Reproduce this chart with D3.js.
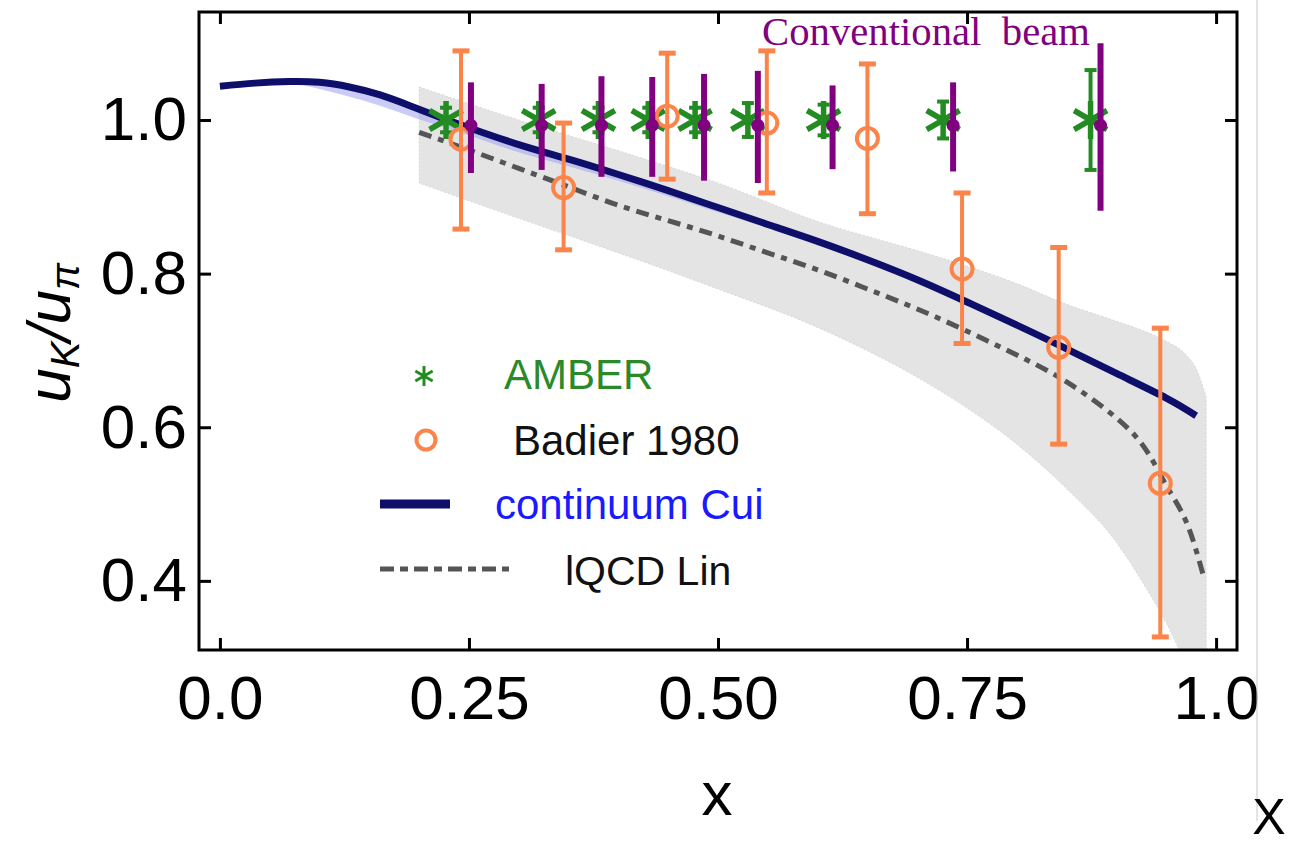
<!DOCTYPE html>
<html>
<head>
<meta charset="utf-8">
<script src="https://cdn.jsdelivr.net/npm/d3@7"></script>
<style>
  html, body { margin: 0; padding: 0; background: #fff; }
  svg { display: block; font-family: "Liberation Sans", Arial, sans-serif; }
</style>
</head>
<body>
<svg id="chart" width="1300" height="845"></svg>
<script>
// axis ticks
const xTicks = [0, 0.25, 0.5, 0.75, 1.0];
const xTickLabels = ["0.0", "0.25", "0.50", "0.75", "1.0"];
const yTicks = [0.4, 0.6, 0.8, 1.0];
const yTickLabels = ["0.4", "0.6", "0.8", "1.0"];

// continuum Cui (solid navy curve)
const cuiX = [0.0, 0.035, 0.07, 0.1, 0.13, 0.16, 0.19, 0.22, 0.25, 0.3, 0.35, 0.4, 0.45, 0.5, 0.55, 0.6, 0.65, 0.7, 0.75, 0.8, 0.85, 0.9, 0.95, 0.98];
const cuiY = [1.044, 1.048, 1.05, 1.049, 1.043, 1.033, 1.019, 1.004, 0.99, 0.968, 0.949, 0.929, 0.908, 0.886, 0.864, 0.842, 0.818, 0.792, 0.763, 0.733, 0.702, 0.67, 0.638, 0.615];
// light blue band below the curve
const cuiBandX = [0.08, 0.12, 0.16, 0.2, 0.25, 0.3, 0.4, 0.5, 0.6, 0.7, 0.76];
const cuiBandLo = [1.047, 1.034, 1.019, 1.001, 0.98, 0.958, 0.921, 0.88, 0.838, 0.789, 0.759];

// lQCD Lin (dash-dot line) and its grey band
const linX = [0.2, 0.25, 0.3, 0.35, 0.4, 0.45, 0.5, 0.55, 0.6, 0.65, 0.7, 0.75, 0.8, 0.85, 0.9, 0.93, 0.95, 0.97, 0.987];
const linY = [0.984, 0.961, 0.937, 0.913, 0.889, 0.869, 0.849, 0.827, 0.805, 0.78, 0.754, 0.725, 0.694, 0.659, 0.612, 0.57, 0.524, 0.477, 0.408];
const bandX = [0.2, 0.3, 0.4, 0.5, 0.6, 0.7, 0.75, 0.8, 0.85, 0.9, 0.93, 0.95, 0.97, 0.98, 0.99];
const bandHi = [1.043, 1.0, 0.96, 0.918, 0.868, 0.83, 0.81, 0.787, 0.76, 0.738, 0.724, 0.712, 0.694, 0.676, 0.64];
const bandLo = [0.918, 0.872, 0.827, 0.78, 0.73, 0.665, 0.625, 0.578, 0.52, 0.45, 0.39, 0.345, 0.29, 0.26, 0.24];

// AMBER projection (green stars)
const amberX = [0.227, 0.320, 0.380, 0.430, 0.477, 0.530, 0.606, 0.726, 0.874];
const amberY = [1, 1, 1, 1, 1, 1, 1, 1, 1];
const amberErr = [0.016, 0.016, 0.016, 0.016, 0.016, 0.022, 0.02, 0.024, 0.065];

// conventional beam (purple)
const convX = [0.252, 0.323, 0.383, 0.434, 0.486, 0.540, 0.615, 0.736, 0.884];
const convY = [0.993, 0.993, 0.993, 0.993, 0.993, 0.993, 0.993, 0.993, 0.993];
const convLo = [0.931, 0.935, 0.926, 0.926, 0.921, 0.918, 0.936, 0.933, 0.882];
const convHi = [1.049, 1.047, 1.057, 1.056, 1.060, 1.064, 1.045, 1.049, 1.100];

// Badier 1980 (orange circles)
const badX = [0.242, 0.345, 0.449, 0.549, 0.65, 0.745, 0.842, 0.944];
const badY = [0.975, 0.912, 1.005, 0.996, 0.976, 0.806, 0.704, 0.527];
const badHi = [1.09, 0.996, 1.087, 1.09, 1.073, 0.905, 0.834, 0.729];
const badLo = [0.858, 0.831, 0.923, 0.905, 0.878, 0.709, 0.578, 0.327];

const GREEN = "#228b22";
const PURPLE = "#800080";
const ORANGE = "#fb844a";
const NAVY = "#0e0e6b";

const svg = d3.select("#chart");

const x = d3.scaleLinear().domain([-0.021, 1.021]).range([199, 1237]);
const y = d3.scaleLinear().domain([0.31, 1.1406]).range([650, 12]);

svg.append("clipPath").attr("id", "clip")
    .append("rect").attr("x", 199).attr("y", 12).attr("width", 1038).attr("height", 638);

const plot = svg.append("g").attr("clip-path", "url(#clip)");

// grey lQCD band
const band = bandX.map((d, i) => ({x: d, hi: bandHi[i], lo: bandLo[i]}));
plot.append("path")
    .datum(band)
    .attr("fill", "#e4e4e4")
    .attr("stroke", "#d0d0d0")
    .attr("stroke-width", 0.8)
    .attr("stroke-dasharray", "2 2")
    .attr("d", d3.area().x(d => x(d.x)).y0(d => y(d.lo)).y1(d => y(d.hi)).curve(d3.curveMonotoneX));

// light blue band under the Cui curve
const cuiLine = d3.line().x(d => x(d[0])).y(d => y(d[1])).curve(d3.curveNatural);
const cuiPts = cuiX.map((d, i) => [d, cuiY[i]]);
const cuiAt = d3.scaleLinear().domain(cuiX).range(cuiY);
const blueBand = cuiBandX.map((d, i) => ({x: d, hi: cuiAt(d), lo: cuiBandLo[i]}));
plot.append("path")
    .datum(blueBand)
    .attr("fill", "#a8a8f2")
    .attr("opacity", 0.6)
    .attr("d", d3.area().x(d => x(d.x)).y0(d => y(d.lo)).y1(d => y(d.hi)).curve(d3.curveNatural));

// lQCD Lin dash-dot
plot.append("path")
    .datum(linX.map((d, i) => [d, linY[i]]))
    .attr("fill", "none")
    .attr("stroke", "#555")
    .attr("stroke-width", 5)
    .attr("stroke-dasharray", "13 7 6 7")
    .attr("d", d3.line().x(d => x(d[0])).y(d => y(d[1])).curve(d3.curveNatural));

// continuum Cui
plot.append("path")
    .datum(cuiPts)
    .attr("fill", "none")
    .attr("stroke", NAVY)
    .attr("stroke-width", 7)
    .attr("d", cuiLine);

// asterisk path
function star(r) {
    const t = r / 2, u = t * Math.sqrt(3);
    return `M0,${-r}L0,${r}M${-u},${-t}L${u},${t}M${-u},${t}L${u},${-t}`;
}

// AMBER
const amber = amberX.map((d, i) => ({x: d, y: amberY[i], e: amberErr[i]}));
const ga = plot.append("g").selectAll("g").data(amber).join("g")
    .attr("transform", d => `translate(${x(d.x)},0)`);
ga.append("line")
    .attr("y1", d => y(d.y + d.e)).attr("y2", d => y(d.y - d.e))
    .attr("stroke", GREEN).attr("stroke-width", 4);
ga.selectAll(".cap").data(d => [d.y + d.e, d.y - d.e]).join("line")
    .attr("x1", -6).attr("x2", 6)
    .attr("y1", d => y(d)).attr("y2", d => y(d))
    .attr("stroke", GREEN).attr("stroke-width", 4);
ga.append("path")
    .attr("transform", d => `translate(0,${y(d.y)})`)
    .attr("d", star(19))
    .attr("stroke", GREEN).attr("stroke-width", 5.5).attr("fill", "none");

// Badier 1980
const bad = badX.map((d, i) => ({x: d, y: badY[i], hi: badHi[i], lo: badLo[i]}));
const gb = plot.append("g").selectAll("g").data(bad).join("g")
    .attr("transform", d => `translate(${x(d.x)},0)`);
gb.append("line")
    .attr("y1", d => y(d.hi)).attr("y2", d => y(d.lo))
    .attr("stroke", ORANGE).attr("stroke-width", 4);
gb.selectAll(".cap").data(d => [d.hi, d.lo]).join("line")
    .attr("x1", -8.5).attr("x2", 8.5)
    .attr("y1", d => y(d)).attr("y2", d => y(d))
    .attr("stroke", ORANGE).attr("stroke-width", 5);
gb.append("circle")
    .attr("cy", d => y(d.y)).attr("r", 10.5)
    .attr("fill", "none").attr("stroke", ORANGE).attr("stroke-width", 4);

// conventional beam
const conv = convX.map((d, i) => ({x: d, y: convY[i], lo: convLo[i], hi: convHi[i]}));
const gc = plot.append("g").selectAll("g").data(conv).join("g")
    .attr("transform", d => `translate(${x(d.x)},0)`);
gc.append("line")
    .attr("y1", d => y(d.hi)).attr("y2", d => y(d.lo))
    .attr("stroke", PURPLE).attr("stroke-width", 6);
gc.append("circle")
    .attr("cy", d => y(d.y)).attr("r", 6.5)
    .attr("fill", PURPLE);

// axes with inward ticks
const fs = "62px";
svg.append("g").attr("transform", "translate(0,650)")
    .call(d3.axisBottom(x).tickValues(xTicks).tickFormat((d, i) => xTickLabels[i]).tickSize(-12).tickPadding(25));
svg.append("g").attr("transform", "translate(199,0)")
    .call(d3.axisLeft(y).tickValues(yTicks).tickFormat((d, i) => yTickLabels[i]).tickSize(-12).tickPadding(12));
svg.append("g").attr("transform", "translate(0,12)")
    .call(d3.axisTop(x).tickValues(xTicks).tickFormat("").tickSize(-12));
svg.append("g").attr("transform", "translate(1237,0)")
    .call(d3.axisRight(y).tickValues(yTicks).tickFormat("").tickSize(-12));
svg.selectAll(".domain").remove();
svg.selectAll(".tick line").attr("stroke", "#000").attr("stroke-width", 3);
svg.selectAll(".tick text")
    .attr("fill", "#000")
    .style("font-size", fs)
    .style("font-family", "'Liberation Sans', Arial, sans-serif");

// frame
svg.append("rect")
    .attr("x", 199).attr("y", 12).attr("width", 1038).attr("height", 638)
    .attr("fill", "none").attr("stroke", "#000").attr("stroke-width", 3);

// labels
svg.append("text")
    .attr("x", 717).attr("y", 815)
    .attr("text-anchor", "middle")
    .style("font-size", fs)
    .text("x");

const yl = svg.append("text")
    .attr("transform", "translate(70,333) rotate(-90)")
    .attr("text-anchor", "middle")
    .style("font-size", "62px")
    .style("font-style", "italic");
yl.append("tspan").text("u");
yl.append("tspan").attr("dy", 9).style("font-size", "40px").text("K");
yl.append("tspan").attr("dy", -9).text("/u");
yl.append("tspan").attr("dy", 9).style("font-size", "40px").text("π");

svg.append("text")
    .attr("x", 762).attr("y", 45)
    .attr("textLength", 328)
    .attr("lengthAdjust", "spacingAndGlyphs")
    .attr("fill", PURPLE)
    .style("white-space", "pre")
    .style("font-family", "'Liberation Serif', 'DejaVu Serif', serif")
    .style("font-size", "39px")
    .text("Conventional  beam");

// legend
const lg = svg.append("g");
lg.append("path")
    .attr("transform", "translate(424,376)")
    .attr("d", star(10))
    .attr("stroke", GREEN).attr("stroke-width", 3).attr("fill", "none");
lg.append("text").attr("x", 504).attr("y", 389)
    .attr("fill", "#2a8a2a").style("font-size", "42px").text("AMBER");
lg.append("circle").attr("cx", 426).attr("cy", 440).attr("r", 9.5)
    .attr("fill", "none").attr("stroke", ORANGE).attr("stroke-width", 4);
lg.append("text").attr("x", 513).attr("y", 455)
    .attr("fill", "#111").style("font-size", "42px").text("Badier 1980");
lg.append("line").attr("x1", 380).attr("x2", 450).attr("y1", 504).attr("y2", 504)
    .attr("stroke", NAVY).attr("stroke-width", 9);
lg.append("text").attr("x", 495).attr("y", 519)
    .attr("fill", "#1a1aff").style("font-size", "42px").text("continuum Cui");
lg.append("line").attr("x1", 380).attr("x2", 509).attr("y1", 569).attr("y2", 569)
    .attr("stroke", "#555").attr("stroke-width", 5).attr("stroke-dasharray", "14 6 8 6");
lg.append("text").attr("x", 565).attr("y", 585)
    .attr("fill", "#111").style("font-size", "41px").text("lQCD Lin");

// page edge bits at right
svg.append("line").attr("x1", 1257).attr("x2", 1257).attr("y1", 0).attr("y2", 821)
    .attr("stroke", "#c8c8c8").attr("stroke-width", 1);
svg.append("text")
    .attr("x", 1269).attr("y", 834)
    .attr("text-anchor", "middle")
    .style("font-size", "50px")
    .text("X");
</script>
</body>
</html>
